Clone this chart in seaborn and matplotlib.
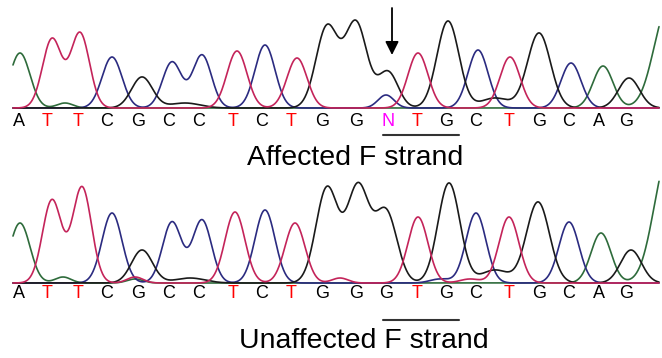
import numpy as np
import pandas as pd
import matplotlib
matplotlib.use("Agg")
import matplotlib.pyplot as plt
import seaborn as sns

# ---- data ----
# base calls and their x positions (pixel-like scan units)
top_bases = list("ATTCGCCTCTGGNTGCTGCAG")
bottom_bases = list("ATTCGCCTCTGGGTGCTGCAG")
top_letter_x = [19, 47, 78, 107, 138, 169, 199, 233, 262, 291, 322, 356, 388, 417, 446, 476, 509, 539, 569, 599, 626]
bottom_letter_x = [19, 47, 78, 107, 138, 169, 199, 233, 262, 291, 322, 356, 386, 417, 446, 476, 509, 539, 569, 599, 626]

# peaks per channel: positions, heights, widths  (top = affected)
top_A_pos = [20, 65, 603, 668]
top_A_h = [55, 5, 42, 100]
top_A_w = [10, 8, 10, 14]
top_C_pos = [112, 172, 202, 265, 386, 478, 571]
top_C_h = [51, 46, 53, 63, 13, 58, 45]
top_C_w = [10, 9.5, 9.5, 10, 8, 10, 10]
top_G_pos = [142, 185, 327, 356, 388, 448, 495, 539, 629]
top_G_h = [31, 5, 81, 85, 36, 87, 10, 75, 30]
top_G_w = [10.5, 15, 11, 11, 10, 11, 14, 11.5, 10.5]
top_T_pos = [52, 80, 237, 297, 418, 510]
top_T_h = [69, 75, 57, 50, 55, 51]
top_T_w = [9.5, 9.5, 10, 10, 10, 10]

# bottom = unaffected
bot_A_pos = [20, 63, 135, 601, 668]
bot_A_h = [60, 6, 4, 50, 125]
bot_A_w = [10, 8, 8, 10, 14]
bot_C_pos = [112, 172, 202, 265, 440, 476, 569]
bot_C_h = [70, 61, 63, 73, 4, 70, 61]
bot_C_w = [10, 9.5, 9.5, 10, 10, 10, 10]
bot_G_pos = [142, 190, 327, 358, 386, 449, 495, 538, 631]
bot_G_h = [33, 5, 95, 96, 71, 100, 13, 81, 33]
bot_G_w = [10.5, 15, 11, 11, 11, 11, 14, 11.5, 10.5]
bot_T_pos = [52, 82, 135, 235, 295, 340, 418, 470, 509]
bot_T_h = [83, 96, 6, 71, 60, 5, 66, 4, 66]
bot_T_w = [9.5, 9.5, 8, 10, 10, 8, 10, 10, 10]

palette = {"A": "#2e6b3b", "C": "#2b2b80", "G": "#1a1a1a", "T": "#c4245a"}
letter_colors = {"A": "black", "C": "black", "G": "black", "T": "#ff0000", "N": "#ff00ff"}

xgrid = np.arange(13, 659.5, 0.5)


def trace(pos, h, w):
    y = np.zeros_like(xgrid)
    for p, hh, ww in zip(pos, h, w):
        y += hh * np.exp(-0.5 * ((xgrid - p) / ww) ** 2)
    return y


def build(panel):
    frames = []
    for ch, (p, h, w) in panel.items():
        frames.append(pd.DataFrame({"x": xgrid, "signal": trace(p, h, w), "channel": ch}))
    return pd.concat(frames, ignore_index=True)


top_df = build({"A": (top_A_pos, top_A_h, top_A_w), "C": (top_C_pos, top_C_h, top_C_w),
                "G": (top_G_pos, top_G_h, top_G_w), "T": (top_T_pos, top_T_h, top_T_w)})
bot_df = build({"A": (bot_A_pos, bot_A_h, bot_A_w), "C": (bot_C_pos, bot_C_h, bot_C_w),
                "G": (bot_G_pos, bot_G_h, bot_G_w), "T": (bot_T_pos, bot_T_h, bot_T_w)})

sns.set_style("white")
plt.rcParams["font.family"] = ["Liberation Sans", "DejaVu Sans"]

W, H = 662, 358
fig = plt.figure(figsize=(W / 100, H / 100), dpi=100)
left = 13 / W
width = (659 - 13) / W
ax_top = fig.add_axes([left, 1 - 108 / H, width, 100 / H])
ax_bot = fig.add_axes([left, 1 - 283 / H, width, 100 / H])

for ax, df, bases, lx, letter_y, line_y, label, label_x, label_y in [
    (ax_top, top_df, top_bases, top_letter_x, -13.5, -27, "Affected F strand", 355.5, -50),
    (ax_bot, bot_df, bottom_bases, bottom_letter_x, -11, -37, "Unaffected F strand", 364, -58),
]:
    sns.lineplot(data=df, x="x", y="signal", hue="channel", palette=palette,
                 hue_order=["A", "C", "G", "T"], linewidth=1.2, legend=False,
                 ax=ax, estimator=None)
    ax.set_xlim(13, 659)
    ax.set_ylim(0, 100)
    ax.axis("off")
    for b, x in zip(bases, lx):
        ax.text(x, letter_y, b, color=letter_colors[b], fontsize=13,
                ha="center", va="center", clip_on=False)
    ax.plot([383, 459], [line_y, line_y], color="#333333", lw=1.5, clip_on=False)
    ax.text(label_x, label_y, label, fontsize=20.5, ha="center", va="center",
            color="black", clip_on=False)
    for line in ax.lines:
        line.set_clip_on(False)

ax_top.annotate("", xy=(392, 53), xytext=(392, 100),
                arrowprops=dict(arrowstyle="-|>,head_length=0.8,head_width=0.4",
                                lw=1.3, color="black", shrinkA=0, shrinkB=0),
                annotation_clip=False)

fig.savefig("out.png", dpi=100, facecolor="white")
